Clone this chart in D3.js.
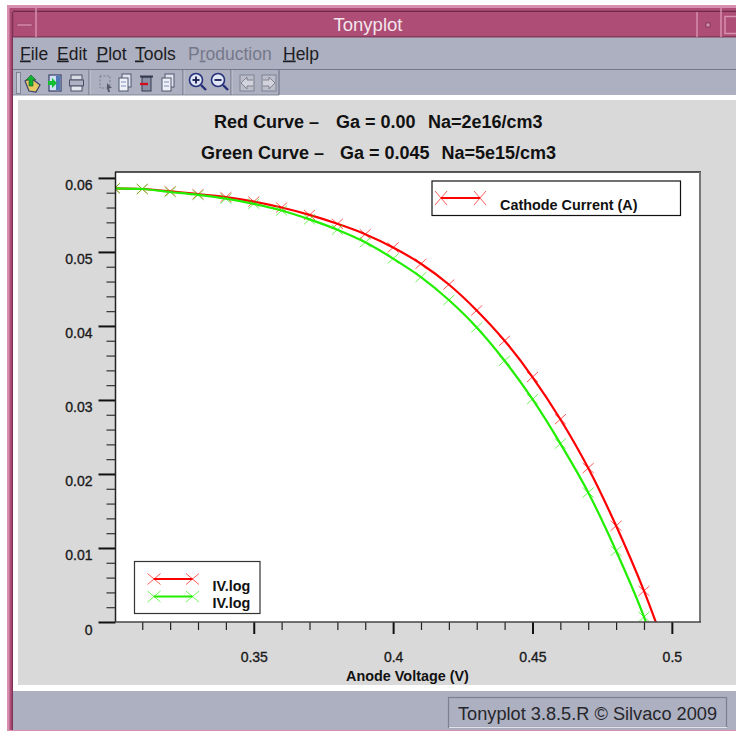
<!DOCTYPE html>
<html>
<head>
<meta charset="utf-8">
<script src="https://cdn.jsdelivr.net/npm/d3@7"></script>
<style>
  html, body { margin: 0; padding: 0; background: #fff; }
  svg { display: block; }
  text { font-family: "Liberation Sans", Arial, sans-serif; }
</style>
</head>
<body>
<div id="chart"></div>
<script>
// values
var voltages = [0.30, 0.31, 0.32, 0.33, 0.34, 0.35, 0.36, 0.37, 0.38, 0.39, 0.40,
  0.41, 0.42, 0.43, 0.44, 0.45, 0.46, 0.47, 0.48, 0.49, 0.50];
var redCurrent = [0.0586, 0.0585, 0.0582, 0.0578, 0.0574, 0.0568, 0.0560, 0.0550, 0.0538, 0.0524, 0.0506,
  0.0484, 0.0456, 0.0421, 0.0380, 0.0331, 0.0274, 0.0208, 0.0130, 0.0042, -0.0060];
var greenCurrent = [0.0586, 0.0585, 0.0581, 0.0577, 0.0572, 0.0565, 0.0556, 0.0544, 0.0530, 0.0513, 0.0491,
  0.0466, 0.0435, 0.0398, 0.0353, 0.0301, 0.0241, 0.0175, 0.0096, 0.0007, -0.0105];

var xMajorTicks = [0.35, 0.4, 0.45, 0.5];
var xTickLabels = ["0.35", "0.4", "0.45", "0.5"];
var yMajorTicks = [0, 0.01, 0.02, 0.03, 0.04, 0.05, 0.06];
var yTickLabels = ["0", "0.01", "0.02", "0.03", "0.04", "0.05", "0.06"];
var menuItems = ["File", "Edit", "Plot", "Tools", "Production", "Help"];
var menuX = [20, 57, 96.5, 135, 188, 283];
var menuUnderline = [0, 0, 0, 0, 1, 0];

var svgWidth = 736;
var svgHeight = 731;
var plot = { left: 115.5, right: 700, top: 172, bottom: 622 };

var svg = d3.select("#chart").append("svg")
  .attr("width", svgWidth)
  .attr("height", svgHeight);

function box(parent, x, y, w, h, fill, stroke, sw) {
  return parent.append("rect")
    .attr("x", x).attr("y", y).attr("width", w).attr("height", h)
    .attr("fill", fill).attr("stroke", stroke || "none").attr("stroke-width", sw || 0);
}

function hline(parent, x1, x2, y, color, sw) {
  return parent.append("line")
    .attr("x1", x1).attr("x2", x2).attr("y1", y).attr("y2", y)
    .attr("stroke", color).attr("stroke-width", sw);
}

function vline(parent, x, y1, y2, color, sw) {
  return parent.append("line")
    .attr("x1", x).attr("x2", x).attr("y1", y1).attr("y2", y2)
    .attr("stroke", color).attr("stroke-width", sw);
}

/*------------------------------------ WINDOW ------------------------------------ */
var win = svg.append("g");

// pink frame
box(win, 7, 5, 729, 726, "#d68fb0");
box(win, 9.5, 8, 726.5, 723, "#ae4d75");
hline(win, 13, 736, 11.5, "#6e2c4a", 1.5);
box(win, 13, 12, 723, 25, "#ae4d75");
hline(win, 13, 736, 37, "#5f2a44", 1);
vline(win, 12.5, 12, 731, "#7d3355", 1.5);

// title bar buttons
vline(win, 36, 5, 37, "#d68fb0", 1.5);
box(win, 17, 23.5, 15, 3, "#c97a9c", "#8c3d5f", 0.5);
vline(win, 697, 12, 37, "#d68fb0", 1.5);
vline(win, 721, 5, 37, "#d68fb0", 1.5);
box(win, 706, 23, 4, 4, "#d68fb0", "#6e2c4a", 0.7);
box(win, 725, 16.5, 14, 17, "none", "#d68fb0", 1.5);
win.append("text").attr("x", 368).attr("y", 31)
  .attr("text-anchor", "middle").attr("font-size", 18.5).attr("fill", "#f3e6ec")
  .text("Tonyplot");

// menu bar, toolbar, status bar
box(win, 13, 37.5, 723, 58, "#adb0c0");
hline(win, 13, 736, 69.5, "#75788a", 1);
win.selectAll("text.menu")
  .data(menuItems)
  .enter()
  .append("text")
  .attr("class", "menu")
  .attr("x", (d, i) => menuX[i])
  .attr("y", 59.5)
  .attr("font-size", 17.5)
  .attr("fill", (d, i) => menuUnderline[i] ? "#75788a" : "#1c1c22")
  .each(function(d, i) {
    // mnemonic letter gets an underline like in the Motif menu
    var k = menuUnderline[i];
    var el = d3.select(this);
    if (k > 0) el.append("tspan").text(d.slice(0, k));
    el.append("tspan").attr("text-decoration", "underline").text(d[k]);
    el.append("tspan").text(d.slice(k + 1));
  });

box(win, 13, 691, 723, 40, "#adb0c0");
box(win, 448.5, 697.5, 278, 30, "#adb0c0", "#7c7f90", 1.2);
hline(win, 449, 727, 727.5, "#e2e3ea", 1);
win.append("text").attr("x", 458).attr("y", 720)
  .attr("font-size", 18).attr("fill", "#26262c")
  .attr("textLength", 259).attr("lengthAdjust", "spacingAndGlyphs")
  .text("Tonyplot 3.8.5.R \u00a9 Silvaco 2009");
hline(win, 7, 736, 730.5, "#d68fb0", 1);

// white edge and gray canvas of the plot
box(win, 13, 95, 723, 596, "#fff");
box(win, 18, 100, 718, 585, "#d9d9d9");

/*------------------------------------ TOOLBAR ------------------------------------ */
var bar = svg.append("g");
box(bar, 16.5, 72.5, 4, 21, "#c9cbd6", "#75788a", 0.8);
[89, 183, 231, 279].forEach(function(x) {
  vline(bar, x, 70, 95, "#75788a", 1.2);
});
vline(bar, 90, 70, 95, "#d5d6df", 0.6);
vline(bar, 184, 70, 95, "#d5d6df", 0.6);
vline(bar, 232, 70, 95, "#d5d6df", 0.6);
hline(bar, 13, 279, 95, "#75788a", 0.8);

function pageIcon(cx, cy) {
  box(bar, cx - 3, cy - 9, 9, 13, "#dfe3ee", "#50586e", 1);
  box(bar, cx - 6, cy - 5, 9, 13, "#eef1f8", "#50586e", 1);
  hline(bar, cx - 4, cx + 1, cy - 1, "#7f90b8", 1);
  hline(bar, cx - 4, cx + 1, cy + 3, "#7f90b8", 1);
}

function zoomIcon(cx, cy, plus) {
  bar.append("circle").attr("cx", cx - 1).attr("cy", cy - 2).attr("r", 6.5)
    .attr("fill", "#dfe6f5").attr("stroke", "#26307a").attr("stroke-width", 1.6);
  bar.append("line").attr("x1", cx + 4).attr("y1", cy + 3).attr("x2", cx + 9).attr("y2", cy + 8)
    .attr("stroke", "#26307a").attr("stroke-width", 2.4);
  hline(bar, cx - 4.5, cx + 2.5, cy - 2, "#161a50", 1.8);
  if (plus) vline(bar, cx - 1, cy - 5.5, cy + 1.5, "#161a50", 1.8);
}

function arrowIcon(cx, cy, dir) {
  box(bar, cx - 7, cy - 8, 14, 16, "#bcbecb", "#80828f", 1);
  bar.append("path")
    .attr("d", d3.line()([[cx + dir * 6, cy - 3], [cx, cy - 3], [cx, cy - 6], [cx - dir * 6, cy], [cx, cy + 6], [cx, cy + 3], [cx + dir * 6, cy + 3]]))
    .attr("fill", "#d2d3dc").attr("stroke", "#80828f");
}

// open file
bar.append("path").attr("d", "M25 81 L31 78 L40 85 L36 92 L29 91 Z")
  .attr("fill", "#e8c860").attr("stroke", "#39406a").attr("stroke-width", 1.2);
bar.append("path").attr("d", "M31 75 L36 80 L33 80 L33 86 L29 86 L29 80 L26 80 Z")
  .attr("fill", "#10b030").attr("stroke", "#205030").attr("stroke-width", 0.6);
// import
box(bar, 49, 75, 12, 16, "#cfe0f2", "#39406a", 1.2);
box(bar, 56, 76, 4, 14, "#4f78b8");
bar.append("path").attr("d", "M48 81 L52 81 L52 78 L57 83 L52 88 L52 85 L48 85 Z").attr("fill", "#10c030");
// print
box(bar, 71, 75, 11, 5, "#d8dae4", "#4c5064", 1);
box(bar, 69.5, 80, 14, 6, "#aeb2c4", "#4c5064", 1);
box(bar, 71, 86, 11, 5, "#e4e6ee", "#4c5064", 1);
// select
box(bar, 100, 76, 10, 12, "none", "#7c7f90", 1).attr("stroke-dasharray", "2,1.5");
bar.append("path").attr("d", "M107 83 L112 88 L109 88 L110 92 L108 92 L107 88 Z").attr("fill", "#555868");
pageIcon(125, 83);
// delete
box(bar, 142, 77, 9, 14, "#8a90a6", "#363a50", 1);
hline(bar, 140, 153, 76.5, "#363a50", 2);
hline(bar, 140, 148, 84, "#d01020", 2.4);
pageIcon(168, 83);
zoomIcon(197, 82, true);
zoomIcon(219, 82, false);
arrowIcon(247, 83, 1);
arrowIcon(269, 83, -1);

/*------------------------------------ TITLES ------------------------------------ */
var titleParts = [
  { x: 214, y: 128, text: "Red Curve \u2013" },
  { x: 336, y: 128, text: "Ga = 0.00" },
  { x: 428, y: 128, text: "Na=2e16/cm3" },
  { x: 201, y: 158.5, text: "Green Curve \u2013" },
  { x: 340, y: 158.5, text: "Ga = 0.045" },
  { x: 441.5, y: 158.5, text: "Na=5e15/cm3" }
];
svg.append("g").selectAll("text")
  .data(titleParts)
  .enter()
  .append("text")
  .attr("x", d => d.x)
  .attr("y", d => d.y)
  .attr("font-size", 18)
  .attr("font-weight", "bold")
  .attr("fill", "#111")
  .text(d => d.text);

/*------------------------------------ PLOT ------------------------------------ */
var xScale = d3.scaleLinear().domain([0.3004, 0.5101]).range([plot.left, plot.right]);
var yScale = d3.scaleLinear().domain([0, 0.0608]).range([plot.bottom, plot.top]);

box(svg, plot.left, plot.top, plot.right - plot.left, plot.bottom - plot.top, "#fff");

svg.append("clipPath").attr("id", "plot-clip")
  .append("rect")
  .attr("x", plot.left).attr("y", plot.top)
  .attr("width", plot.right - plot.left).attr("height", plot.bottom - plot.top);

// minor ticks first, the long major ones go on top
var xMinor = voltages.filter(v => xMajorTicks.indexOf(v) < 0 && v > 0.3 );
var yMinor = d3.range(0, 31).map(i => i * 0.002).filter((v, i) => i % 5 !== 0);

svg.append("g")
  .attr("transform", `translate(0, ${plot.bottom})`)
  .call(d3.axisBottom(xScale).tickValues(xMinor).tickSize(8).tickFormat(""))
  .call(g => g.select(".domain").remove())
  .call(g => g.selectAll("line").attr("stroke", "#222").attr("stroke-width", 1.2));

svg.append("g")
  .attr("transform", `translate(${plot.left}, 0)`)
  .call(d3.axisLeft(yScale).tickValues(yMinor).tickSize(9).tickFormat(""))
  .call(g => g.select(".domain").remove())
  .call(g => g.selectAll("line").attr("stroke", "#333").attr("stroke-width", 1.2));

var xAxis = svg.append("g")
  .attr("transform", `translate(0, ${plot.bottom})`)
  .call(d3.axisBottom(xScale).tickValues(xMajorTicks).tickSize(12).tickPadding(18)
    .tickFormat((d, i) => xTickLabels[i]));
xAxis.select(".domain").remove();
xAxis.selectAll("line").attr("stroke", "#111").attr("stroke-width", 2);

var yAxis = svg.append("g")
  .attr("transform", `translate(${plot.left}, 0)`)
  .call(d3.axisLeft(yScale).tickValues(yMajorTicks).tickSize(17).tickPadding(6)
    .tickFormat((d, i) => yTickLabels[i]));
yAxis.select(".domain").remove();
yAxis.selectAll("line").attr("stroke", "#111").attr("stroke-width", 2);
yAxis.selectAll("text").attr("dy", 12);

[xAxis, yAxis].forEach(function(axis) {
  axis.selectAll("text")
    .attr("font-family", "Liberation Sans")
    .attr("font-size", 14)
    .attr("fill", "#1a1a1a")
    .attr("stroke", "#1a1a1a")
    .attr("stroke-width", 0.35);
});

svg.append("text")
  .attr("x", 407.5)
  .attr("y", 681)
  .attr("text-anchor", "middle")
  .attr("font-size", 14.4)
  .attr("font-weight", "bold")
  .attr("fill", "#111")
  .text("Anode Voltage (V)");

// curves
var curves = svg.append("g").attr("clip-path", "url(#plot-clip)");
var lineGen = d3.line().x((d, i) => xScale(voltages[i])).y(d => yScale(d)).curve(d3.curveMonotoneX);

function drawX(parent, cx, cy, color, rx, ry) {
  parent.append("path")
    .attr("d", `M${cx - rx},${cy - ry}L${cx + rx},${cy + ry}M${cx - rx},${cy + ry}L${cx + rx},${cy - ry}`)
    .attr("fill", "none")
    .attr("stroke", color)
    .attr("stroke-width", 1)
    .attr("stroke-opacity", 0.65);
}

function drawCurve(values, color) {
  curves.append("path")
    .datum(values)
    .attr("d", lineGen)
    .attr("fill", "none")
    .attr("stroke", color)
    .attr("stroke-width", 2.2);
  values.forEach(function(v, i) {
    drawX(curves, xScale(voltages[i]), yScale(v), color, 5.5, 5);
  });
}

drawCurve(redCurrent, "#ff0000");
drawCurve(greenCurrent, "#22ee00");

// plot border
hline(svg, plot.left - 0.5, plot.right + 1, plot.top, "#222", 1.5);
vline(svg, plot.left, plot.top, plot.bottom, "#222", 1.5);
vline(svg, plot.right, plot.top, plot.bottom, "#777", 2);
hline(svg, plot.left, plot.right + 1, plot.bottom, "#444", 1.5);

/*------------------------------------ LEGENDS ------------------------------------ */
function legendSample(parent, x1, x2, y, color, rx, ry) {
  hline(parent, x1, x2, y, color, 2.2);
  drawX(parent, x1, y, color, rx, ry);
  drawX(parent, x2, y, color, rx, ry);
}

var topLegend = svg.append("g");
box(topLegend, 432, 181, 248.5, 34.5, "#fff", "#111", 1.2);
legendSample(topLegend, 441, 480, 198, "#ff0000", 6, 7);
topLegend.append("text").attr("x", 500).attr("y", 210)
  .attr("font-size", 14.4).attr("font-weight", "bold").attr("fill", "#111")
  .text("Cathode Current (A)");

var fileLegend = svg.append("g");
box(fileLegend, 134.5, 561.5, 125.5, 52, "#fff", "#333", 1.2);
legendSample(fileLegend, 154, 192.5, 579, "#ff0000", 6.5, 5.5);
legendSample(fileLegend, 154, 192.5, 596.5, "#22ee00", 6.5, 5.5);
fileLegend.append("text").attr("x", 212.5).attr("y", 591)
  .attr("font-size", 14.4).attr("font-weight", "bold").attr("fill", "#111").text("IV.log");
fileLegend.append("text").attr("x", 212.5).attr("y", 608)
  .attr("font-size", 14.4).attr("font-weight", "bold").attr("fill", "#111").text("IV.log");
</script>
</body>
</html>
